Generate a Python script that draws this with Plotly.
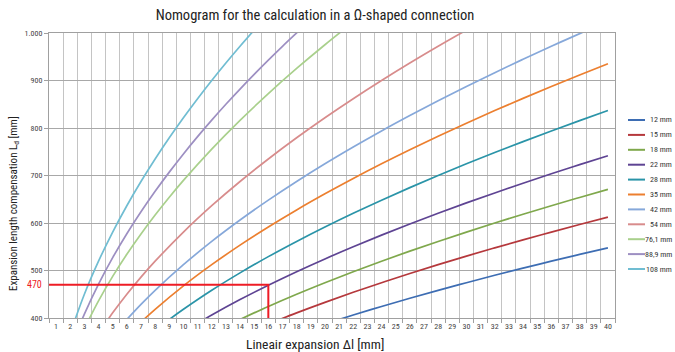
import plotly.graph_objects as go

# ---- data ----
series_names = ["12 mm", "15 mm", "18 mm", "22 mm", "28 mm", "35 mm",
                "42 mm", "54 mm", "76,1 mm", "88,9 mm", "108 mm"]
series_colors = ["#3d6db3", "#b5383c", "#7fa84c", "#5e4493", "#2a94a8", "#ec7f2f",
                 "#86a8da", "#d88c8c", "#a9d08c", "#9d8fc2", "#70bdd2"]

x_12 = [21, 22, 24, 26, 28, 30, 32, 34, 36, 38, 40]
y_12 = [396.9, 406.2, 424.3, 441.6, 458.3, 474.3, 489.9, 505.0, 519.6, 533.9, 547.7]

x_15 = [16, 18, 20, 22, 24, 26, 28, 30, 32, 34, 36, 38, 40]
y_15 = [387.3, 410.8, 433.0, 454.1, 474.3, 493.7, 512.3, 530.3, 547.7, 564.6, 580.9, 596.9, 612.4]

x_18 = [14, 16, 18, 20, 22, 24, 26, 28, 30, 32, 34, 36, 38, 40]
y_18 = [396.9, 424.3, 450.0, 474.3, 497.5, 519.6, 540.8, 561.2, 580.9, 600.0, 618.5, 636.4, 653.8, 670.8]

x_22 = [11, 12, 14, 16, 18, 20, 22, 24, 26, 28, 30, 32, 34, 36, 38, 40]
y_22 = [388.9, 406.2, 438.7, 469.0, 497.5, 524.4, 550.0, 574.5, 597.9, 620.5, 642.3, 663.3, 683.7, 703.6, 722.8, 741.6]

x_28 = [9, 10, 12, 14, 16, 18, 20, 22, 24, 26, 28, 30, 32, 34, 36, 38, 40]
y_28 = [396.9, 418.3, 458.3, 495.0, 529.2, 561.2, 591.6, 620.5, 648.1, 674.5, 700.0, 724.6, 748.3, 771.4, 793.7, 815.5, 836.7]

x_35 = [7, 8, 10, 12, 14, 16, 18, 20, 22, 24, 26, 28, 30, 32, 34, 36, 38, 40]
y_35 = [391.3, 418.3, 467.7, 512.3, 553.4, 591.6, 627.5, 661.4, 693.7, 724.6, 754.2, 782.6, 810.1, 836.7, 862.4, 887.4, 911.7, 935.4]

x_42 = [6, 7, 8, 10, 12, 14, 16, 18, 20, 22, 24, 26, 28, 30, 32, 34, 36, 38, 39]
y_42 = [396.9, 428.7, 458.3, 512.3, 561.2, 606.2, 648.1, 687.4, 724.6, 759.9, 793.7, 826.1, 857.3, 887.4, 916.5, 944.7, 972.1, 998.7, 1011.8]

x_54 = [4, 5, 6, 7, 8, 10, 12, 14, 16, 18, 20, 22, 24, 26, 28, 30]
y_54 = [367.4, 410.8, 450.0, 486.1, 519.6, 580.9, 636.4, 687.4, 734.8, 779.4, 821.6, 861.7, 900.0, 936.8, 972.1, 1006.2]

x_76 = [3, 4, 5, 6, 7, 8, 9, 10, 12, 14, 16, 18, 20, 22]
y_76 = [377.7, 436.2, 487.7, 534.2, 577.0, 616.8, 654.3, 689.7, 755.5, 816.0, 872.4, 925.3, 975.3, 1022.9]

x_89 = [2.5, 3, 4, 5, 6, 7, 8, 9, 10, 11, 12, 13, 14, 15, 16, 17, 18, 18.5]
y_89 = [372.7, 408.3, 471.4, 527.1, 577.4, 623.6, 666.7, 707.1, 745.4, 781.8, 816.5, 849.9, 882.0, 912.9, 942.9, 971.9, 1000.0, 1013.9]

x_108 = [2, 3, 4, 5, 6, 7, 8, 9, 10, 11, 12, 13, 14, 15]
y_108 = [367.4, 450.0, 519.6, 580.9, 636.4, 687.4, 734.8, 779.4, 821.6, 861.7, 900.0, 936.8, 972.1, 1006.2]

series_x = [x_12, x_15, x_18, x_22, x_28, x_35, x_42, x_54, x_76, x_89, x_108]
series_y = [y_12, y_15, y_18, y_22, y_28, y_35, y_42, y_54, y_76, y_89, y_108]

# example reading: 470 mm at 16 mm
ref_x = [0.5, 16, 16]
ref_y = [470, 470, 400]
ref_label = "470"

x_ticks = list(range(1, 41))
y_ticks = [400, 500, 600, 700, 800, 900, 1000]
y_ticktext = ["400", "500", "600", "700", "800", "900", "1.000"]

title_text = "Nomogram for the calculation in a Ω-shaped connection"
x_title = "Lineair expansion Δl [mm]"
y_title = "Expansion length compensation L<sub>d</sub> [mm]"

FONT = "Liberation Sans Narrow, Arial Narrow, Roboto Condensed, Roboto, sans-serif"

fig = go.Figure()
for name, col, xs, ys in zip(series_names, series_colors, series_x, series_y):
    fig.add_trace(go.Scatter(x=xs, y=ys, mode="lines", name=name,
                             line=dict(color=col, width=1.7, shape="spline"),
                             showlegend=False, hoverinfo="skip"))

fig.add_trace(go.Scatter(x=ref_x, y=ref_y, mode="lines",
                         line=dict(color="#ee1c25", width=2),
                         showlegend=False, hoverinfo="skip"))

# manual compact legend
W, H = 675, 352
ml, mr, mt, mb = 49, 60, 33, 34
pw, ph = W - ml - mr, H - mt - mb
shapes = []
annotations = []
for i, (name, col) in enumerate(zip(series_names, series_colors)):
    ypix = 120 + 14.9 * i
    yp = (H - mb - ypix) / ph
    shapes.append(dict(type="line", xref="paper", yref="paper",
                       x0=(628 - ml) / pw, x1=(645 - ml) / pw, y0=yp, y1=yp,
                       line=dict(color=col, width=2)))
    annotations.append(dict(text=name, xref="paper", yref="paper",
                            x=(674 - ml) / pw, y=yp, xanchor="right", yanchor="middle",
                            showarrow=False, font=dict(size=8, color="#333", family=FONT)))

annotations.append(dict(text=ref_label, xref="paper", yref="y", x=-0.008, y=ref_y[0],
                        xanchor="right", yanchor="middle", showarrow=False,
                        font=dict(size=10, color="#ee1c25", family=FONT)))
annotations.append(dict(text=x_title, xref="paper", yref="paper",
                        x=(315 - ml) / pw, y=-0.055, xanchor="center", yanchor="top",
                        showarrow=False, font=dict(size=13.5, color="#222", family=FONT)))
annotations.append(dict(text=y_title, xref="paper", yref="paper", textangle=-90,
                        x=(14 - ml) / pw, y=(H - mb - 204) / ph, xanchor="center", yanchor="middle",
                        showarrow=False, font=dict(size=11, color="#222", family=FONT)))

fig.update_layout(
    width=W, height=H,
    margin=dict(l=ml, r=mr, t=mt, b=mb),
    paper_bgcolor="white", plot_bgcolor="white",
    title=dict(text=title_text, x=315 / W, xref="container", xanchor="center",
               y=1 - 15 / H, yref="container", yanchor="middle",
               font=dict(size=14.5, color="#222", family=FONT)),
    shapes=shapes, annotations=annotations,
    xaxis=dict(range=[0.5, 40.5], tickmode="array", tickvals=x_ticks,
               ticktext=[str(v) for v in x_ticks], showgrid=False, zeroline=False,
               ticks="", tickfont=dict(size=8, color="#444", family=FONT),
               showline=True, linecolor="#a0a0a0", linewidth=1, mirror=True,
               minor=dict(tick0=0.5, dtick=1, showgrid=True, gridcolor="#c4c4c4",
                          gridwidth=1, ticks="outside", ticklen=4, tickcolor="#a0a0a0")),
    yaxis=dict(range=[400, 1000], tickmode="array", tickvals=y_ticks, ticktext=y_ticktext,
               showgrid=True, gridcolor="#a8a8a8", gridwidth=1, zeroline=False,
               ticks="outside", ticklen=4, tickcolor="#a0a0a0",
               tickfont=dict(size=8, color="#444", family=FONT),
               showline=True, linecolor="#a0a0a0", linewidth=1, mirror=True),
)

fig.write_html("out.html", config={"displayModeBar": False},
               post_script="document.body.style.margin='0';document.body.style.padding='0';")
